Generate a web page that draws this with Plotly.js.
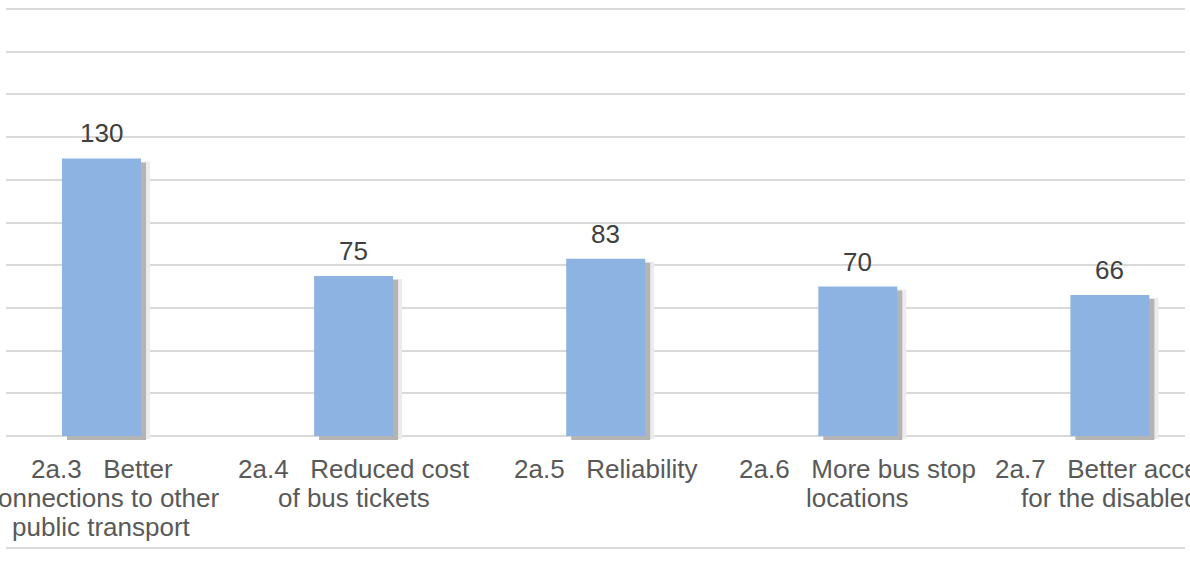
<!DOCTYPE html>
<html>
<head>
<meta charset="utf-8">
<script src="https://cdn.plot.ly/plotly-3.0.1.min.js"></script>
<style>
  html, body { margin: 0; padding: 0; background: #ffffff; }
  #chart { width: 1190px; height: 562px; }
</style>
</head>
<body>
<div id="chart"></div>
<script>
// ---- data ----
const categories = ["2a.3", "2a.4", "2a.5", "2a.6", "2a.7"];
const values = [130, 75, 83, 70, 66];
const tickLabels = [
  "2a.3\u00a0\u00a0\u00a0Better<br>connections to other<br>public transport",
  "2a.4\u00a0\u00a0\u00a0Reduced cost<br>of bus tickets",
  "2a.5\u00a0\u00a0\u00a0Reliability",
  "2a.6\u00a0\u00a0\u00a0More bus stop<br>locations",
  "2a.7\u00a0\u00a0\u00a0Better access<br>for the disabled"
];
const gridValues = [0, 20, 40, 60, 80, 100, 120, 140, 160, 180, 200];

// ---- geometry / style ----
const W = 1190, H = 562;
const mL = 6, mR = 5;
const pxPerCat = 252.1;      // pixels per category step
const pxPerUnit = 2.135;     // pixels per value unit
const firstCenterPx = 101.5;
const baselinePx = 436;
const xRange = [(mL - firstCenterPx) / pxPerCat, (W - mR - firstCenterPx) / pxPerCat];
const yRange = [(baselinePx - H) / pxPerUnit, baselinePx / pxPerUnit];
const barW = 79 / pxPerCat;

const barColor = "#8db3e2";
const gridColor = "#d9d9d9";
const fontFam = "'Liberation Sans', Arial, sans-serif";

function shadowTrace(dxPx, dyPx, color) {
  return {
    type: "bar",
    x: categories,
    y: values,
    base: values.map(() => -dyPx / pxPerUnit),
    width: barW,
    offset: -barW / 2 + dxPx / pxPerCat,
    marker: { color: color, line: { width: 0 } },
    hoverinfo: "skip",
    showlegend: false,
    cliponaxis: false
  };
}

const traces = [
  shadowTrace(9, 3, "#ececec"),
  shadowTrace(5, 4, "#b4b4b4"),
  {
    type: "bar",
    x: categories,
    y: values,
    width: barW,
    marker: { color: barColor, line: { width: 0 } },
    showlegend: false
  }
];

const annotations = [];
values.forEach((v, i) => {
  annotations.push({
    x: categories[i], y: v, xref: "x", yref: "y",
    text: String(v), showarrow: false,
    xanchor: "center", yanchor: "bottom", yshift: 8,
    font: { family: fontFam, size: 26, color: "#404040" }
  });
});
tickLabels.forEach((lab, i) => {
  lab.split("<br>").forEach((line, j) => {
    annotations.push({
      x: categories[i], y: 0, xref: "x", yref: "y",
      text: line, showarrow: false,
      xanchor: "center", yanchor: "top", yshift: -16 - 29 * j,
      font: { family: fontFam, size: 26, color: "#595959" }
    });
  });
});

const layout = {
  width: W, height: H,
  margin: { l: mL, r: mR, t: 0, b: 0, pad: 0 },
  paper_bgcolor: "#ffffff",
  plot_bgcolor: "#ffffff",
  barmode: "overlay",
  showlegend: false,
  xaxis: {
    type: "category",
    categoryorder: "array",
    categoryarray: categories,
    range: xRange,
    showticklabels: false,
    showgrid: false,
    zeroline: false,
    showline: false,
    ticks: ""
  },
  yaxis: {
    range: yRange,
    tickmode: "array",
    tickvals: gridValues,
    showticklabels: false,
    showgrid: true,
    gridcolor: gridColor,
    gridwidth: 2,
    zeroline: false,
    showline: false,
    ticks: ""
  },
  shapes: [
    {
      type: "line", xref: "paper", yref: "paper",
      x0: 0, x1: 1, y0: (H - 548) / H, y1: (H - 548) / H,
      line: { color: gridColor, width: 2 }
    }
  ],
  annotations: annotations
};

Plotly.newPlot("chart", traces, layout, { displayModeBar: false, staticPlot: true });
</script>
</body>
</html>
